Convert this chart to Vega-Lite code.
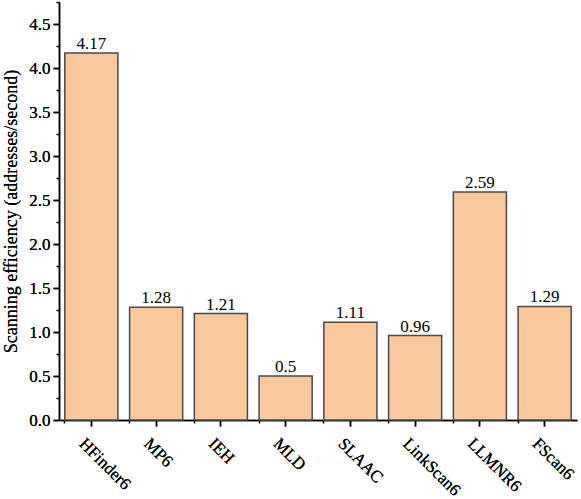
{
  "$schema": "https://vega.github.io/schema/vega-lite/v6.json",
  "width": 518,
  "height": 418,
  "autosize": {"type": "none"},
  "padding": {"left": 59, "top": 2, "right": 4, "bottom": 79},
  "background": "white",
  "config": {
    "view": {"stroke": null},
    "font": "Liberation Serif",
    "axis": {"labelFont": "Liberation Serif", "titleFont": "Liberation Serif", "domainColor": "black", "tickColor": "black", "labelColor": "black", "titleColor": "black", "grid": false, "domainWidth": 1.5, "tickWidth": 1.5}
  },
  "data": {
    "values": [
      {"method": "HFinder6", "value": 4.17},
      {"method": "MP6", "value": 1.28},
      {"method": "IEH", "value": 1.21},
      {"method": "MLD", "value": 0.5},
      {"method": "SLAAC", "value": 1.11},
      {"method": "LinkScan6", "value": 0.96},
      {"method": "LLMNR6", "value": 2.59},
      {"method": "FScan6", "value": 1.29}
    ]
  },
  "encoding": {
    "x": {
      "field": "method",
      "type": "nominal",
      "sort": null,
      "scale": {"paddingInner": 0.18, "paddingOuter": 0.09},
      "axis": {"orient": "bottom", "title": null, "labelAngle": 45, "labelFontSize": 17, "tickSize": 6, "labelPadding": 9, "labelOffset": -4, "labelAlign": "left", "labelBaseline": "top"}
    },
    "y": {
      "field": "value",
      "type": "quantitative",
      "scale": {"domain": [0, 4.75], "nice": false},
      "axis": {"orient": "left", "title": "Scanning efficiency (addresses/second)", "titleFontSize": 18, "titleFontWeight": "normal", "labelFontSize": 17, "values": [0, 0.5, 1, 1.5, 2, 2.5, 3, 3.5, 4, 4.5], "format": ".1f", "tickSize": 6, "labelPadding": 3, "titlePadding": 8}
    }
  },
  "layer": [
    {
      "mark": {"type": "bar", "fill": "#F9C89C", "stroke": "#4a4a4a", "strokeWidth": 1.5}
    },
    {
      "mark": {"type": "text", "dy": -9, "fontSize": 17, "color": "black", "font": "Liberation Serif"},
      "encoding": {"text": {"field": "value", "type": "quantitative"}}
    },
    {
      "mark": {"type": "tick", "opacity": 0},
      "encoding": {
        "x": {"field": "method", "type": "nominal", "sort": null, "axis": {"orient": "bottom", "title": null, "labels": false, "domain": false, "bandPosition": 0, "tickSize": 3}},
        "y": {"field": "value", "type": "quantitative", "axis": {"orient": "left", "title": null, "labels": false, "domain": false, "values": [0.25, 0.75, 1.25, 1.75, 2.25, 2.75, 3.25, 3.75, 4.25, 4.75], "tickSize": 3}}
      }
    }
  ],
  "resolve": {"axis": {"x": "independent", "y": "independent"}}
}
